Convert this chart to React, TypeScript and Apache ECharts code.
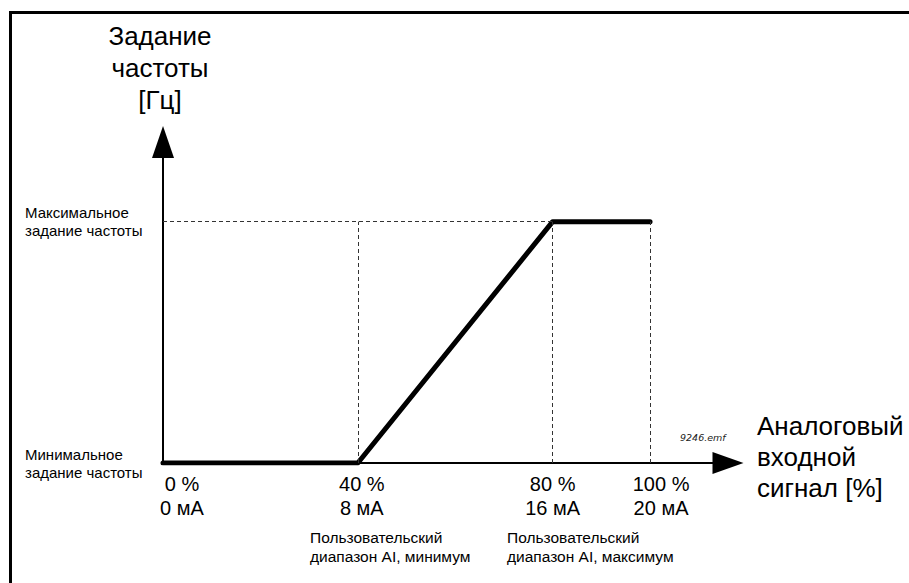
import React, { useEffect, useRef } from "react";
import * as echarts from "echarts";

// Analog input (% of range) and its current equivalent
const inputPct = [0, 40, 80, 100];
const inputMa = [0, 8, 16, 20];
// Frequency reference level (0 = minimum reference, 100 = maximum reference)
const refLevel = [0, 0, 100, 100];
// Y axis levels and their labels
const yLevels = [0, 100];
const yLabels = ["Минимальное\nзадание частоты", "Максимальное\nзадание частоты"];
// Guide lines (dashed)
const guideX = [40, 80, 100];
const guideTopX = 80;
// Captions
const captionMin = "Пользовательский\nдиапазон AI, минимум";
const captionMax = "Пользовательский\nдиапазон AI, максимум";
const yTitle = "Задание\nчастоты\n[Гц]";
const xTitleLines = ["Аналоговый", "входной", "сигнал [%]"];
const fileTag = "9246.emf";

const FONT = "'Liberation Sans', Arial, sans-serif";

export default function App() {
  const ref = useRef<HTMLDivElement>(null);
  useEffect(() => {
    const chart = echarts.init(ref.current!, null, { renderer: "svg" });
    const labelPad = [38, 8, 0, 22];
    const rich: any = {};
    labelPad.forEach((p, i) => {
      rich["r" + i] = {
        fontSize: 20,
        lineHeight: 24,
        fontFamily: FONT,
        color: "#000",
        padding: [0, 0, 0, p],
      };
    });
    const guides: any[] = [
      [{ coord: [0, 100] }, { coord: [guideTopX, 100] }],
      ...guideX.map((x) => [{ coord: [x, 0] }, { coord: [x, 100] }]),
    ];
    const xTitle =
      xTitleLines.map((l) => `{t|${l}}`).join("\n") + "\n{s| }";
    chart.setOption({
      animation: false,
      backgroundColor: "#fff",
      grid: { left: 163, right: 181, top: 142, bottom: 120 },
      xAxis: {
        type: "value",
        min: 0,
        max: 116,
        axisLine: {
          show: true,
          symbol: ["none", "triangle"],
          symbolSize: [22, 31],
          lineStyle: { color: "#000", width: 2 },
        },
        axisTick: { show: false },
        splitLine: { show: false },
        axisLabel: {
          show: true,
          customValues: inputPct,
          margin: 9,
          hideOverlap: false,
          formatter: (v: number) => {
            const i = inputPct.indexOf(v);
            return `{r${i}|${inputPct[i]} %}\n{r${i}|${inputMa[i]} мА}`;
          },
          rich,
        },
        name: xTitle,
        nameLocation: "end",
        nameGap: 29,
        nameTextStyle: {
          align: "left",
          verticalAlign: "middle",
          rich: {
            t: {
              fontSize: 26,
              lineHeight: 31,
              fontFamily: FONT,
              color: "#000",
              align: "left",
            },
            s: { fontSize: 1, lineHeight: 13, color: "#fff" },
          },
        },
      },
      yAxis: {
        type: "value",
        min: 0,
        max: 133,
        axisLine: {
          show: true,
          symbol: ["none", "triangle"],
          symbolSize: [22, 32],
          lineStyle: { color: "#000", width: 2 },
        },
        axisTick: { show: false },
        splitLine: { show: false },
        axisLabel: {
          show: true,
          customValues: yLevels,
          margin: 138,
          align: "left",
          fontSize: 15,
          lineHeight: 18,
          fontFamily: FONT,
          color: "#000",
          formatter: (v: number) => yLabels[yLevels.indexOf(v)],
        },
        name: yTitle,
        nameLocation: "end",
        nameGap: 26,
        nameTextStyle: {
          fontSize: 26,
          lineHeight: 32,
          fontFamily: FONT,
          color: "#000",
          align: "center",
          verticalAlign: "bottom",
          padding: [0, 6, 0, 0],
        },
      },
      series: [
        {
          type: "line",
          data: [],
          z: 1,
          silent: true,
          markLine: {
            silent: true,
            symbol: ["none", "none"],
            label: { show: false },
            lineStyle: { type: [4, 3], width: 1, color: "#333" },
            data: guides,
          },
        },
        {
          type: "line",
          z: 3,
          showSymbol: false,
          symbol: "none",
          data: inputPct.map((x, i) => [x, refLevel[i]]),
          lineStyle: { color: "#000", width: 5, cap: "round", join: "round" },
        },
      ],
      graphic: [
        {
          type: "rect",
          shape: { x: 10.5, y: 12.5, width: 2000, height: 2000 },
          style: { fill: "none", stroke: "#000", lineWidth: 3 },
          silent: true,
        },
        {
          type: "text",
          x: 310,
          y: 528,
          style: {
            text: captionMin,
            font: `15.5px ${FONT}`,
            lineHeight: 19,
            fill: "#000",
            textVerticalAlign: "top",
          },
        },
        {
          type: "text",
          x: 507,
          y: 528,
          style: {
            text: captionMax,
            font: `15.5px ${FONT}`,
            lineHeight: 19,
            fill: "#000",
            textVerticalAlign: "top",
          },
        },
        {
          type: "text",
          x: 680,
          y: 437,
          style: {
            text: fileTag,
            font: `italic 9.5px 'DejaVu Sans', sans-serif`,
            fill: "#222",
            textVerticalAlign: "middle",
          },
        },
      ],
    });
    return () => chart.dispose();
  }, []);
  return (
    <div
      ref={ref}
      style={{ position: "fixed", left: 0, top: 0, width: 909, height: 583 }}
    />
  );
}
